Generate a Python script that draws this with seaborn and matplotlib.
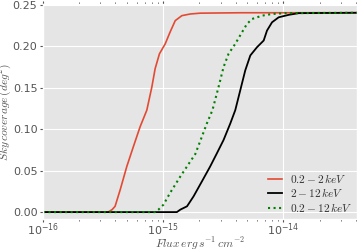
import numpy as np
import pandas as pd
import matplotlib
matplotlib.use("Agg")
import matplotlib.pyplot as plt
import matplotlib.ticker as mticker
import seaborn as sns

# ---- data ----
flux_soft = [1.0e-16, 3.48e-16, 3.76e-16, 3.98e-16, 4.39e-16, 4.98e-16, 5.65e-16, 6.43e-16,
             7.31e-16, 8.05e-16, 8.57e-16, 9.31e-16, 1.04e-15, 1.14e-15, 1.26e-15, 1.43e-15,
             1.68e-15, 2.03e-15, 4.37e-15, 4.1e-14]
cov_soft = [0.0, 0.0, 0.003, 0.007, 0.027, 0.055, 0.079, 0.103,
            0.123, 0.151, 0.173, 0.191, 0.203, 0.217, 0.231, 0.237,
            0.239, 0.240, 0.2405, 0.2405]

flux_hard = [1.0e-16, 1.30e-15, 1.39e-15, 1.58e-15, 1.79e-15, 2.10e-15, 2.46e-15, 2.80e-15,
             3.18e-15, 3.62e-15, 3.98e-15, 4.38e-15, 4.82e-15, 5.31e-15, 6.04e-15, 6.86e-15,
             7.31e-15, 8.05e-15, 9.14e-15, 1.11e-14, 1.34e-14, 4.1e-14]
cov_hard = [0.0, 0.0, 0.003, 0.007, 0.019, 0.037, 0.055, 0.071,
            0.087, 0.107, 0.123, 0.147, 0.171, 0.189, 0.199, 0.207,
            0.219, 0.229, 0.235, 0.238, 0.240, 0.2405]

flux_full = [1.0e-16, 8.57e-16, 9.14e-16, 1.006e-15, 1.14e-15, 1.39e-15, 1.68e-15, 1.85e-15,
             2.10e-15, 2.31e-15, 2.57e-15, 2.89e-15, 3.18e-15, 3.50e-15, 3.98e-15, 4.53e-15,
             4.98e-15, 5.49e-15, 6.65e-15, 8.05e-15, 1.04e-14, 4.1e-14]
cov_full = [0.0, 0.0, 0.003, 0.009, 0.023, 0.043, 0.061, 0.070,
            0.091, 0.107, 0.123, 0.151, 0.175, 0.191, 0.203, 0.217,
            0.227, 0.233, 0.237, 0.239, 0.240, 0.2405]

labels = [r"$0.2-2\,keV$", r"$2-12\,keV$", r"$0.2-12\,keV$"]
x_ticks = [1e-16, 1e-15, 1e-14]
x_tick_labels = [r"$\mathregular{10^{-16}}$", r"$\mathregular{10^{-15}}$", r"$\mathregular{10^{-14}}$"]
y_ticks = [0.00, 0.05, 0.10, 0.15, 0.20, 0.25]

plt.style.use("ggplot")
plt.rcParams["mathtext.fontset"] = "cm"
plt.rcParams["font.family"] = ["DejaVu Sans"]

fig = plt.figure(figsize=(3.57, 2.5), dpi=100)
ax = fig.add_axes([43 / 357, 30.7 / 250, (357 - 43) / 357, (219.3 - 4.3) / 250])

df_soft = pd.DataFrame({"flux": flux_soft, "cov": cov_soft})
df_hard = pd.DataFrame({"flux": flux_hard, "cov": cov_hard})
df_full = pd.DataFrame({"flux": flux_full, "cov": cov_full})

sns.lineplot(data=df_soft, x="flux", y="cov", ax=ax, color="#E24A33", lw=1.2,
             label=labels[0], estimator=None, sort=False)
sns.lineplot(data=df_hard, x="flux", y="cov", ax=ax, color="black", lw=1.3,
             label=labels[1], estimator=None, sort=False)
sns.lineplot(data=df_full, x="flux", y="cov", ax=ax, color="green", lw=1.5, ls=":",
             label=labels[2], estimator=None, sort=False)

ax.set_xscale("log")
ax.set_xlim(1e-16, 4.1e-14)
ax.set_ylim(-0.0087, 0.2507)
ax.set_xticks(x_ticks)
ax.set_xticklabels(x_tick_labels)
ax.set_yticks(y_ticks)
ax.yaxis.set_major_formatter(mticker.FormatStrFormatter("%.2f"))
ax.tick_params(axis="both", which="both", labelsize=8, colors="#555555",
               top=True, right=True, direction="out", pad=1.5)
ax.tick_params(axis="x", which="both", pad=-1)
ax.tick_params(axis="both", which="major", length=2.5)
ax.tick_params(axis="both", which="minor", length=1.5)
ax.grid(True, which="major", color="white", lw=0.8)

ax.set_xlabel(r"$Flux\,erg\,s^{-1}\,cm^{-2}$", fontsize=8.3, color="#555555")
ax.set_ylabel(r"$Sky\,coverage\,(deg^2)$", fontsize=8.3, color="#555555")
ax.xaxis.set_label_coords(0.5, -0.075)
ax.yaxis.set_label_coords(-0.093, 0.5)

leg = ax.legend(loc="lower right", frameon=False, fontsize=8.2, handlelength=1.2,
                handletextpad=0.7, borderaxespad=0.15, borderpad=0.3, labelspacing=0.15)
for t in leg.get_texts():
    t.set_color("#333333")

fig.savefig("out.png", dpi=100)
